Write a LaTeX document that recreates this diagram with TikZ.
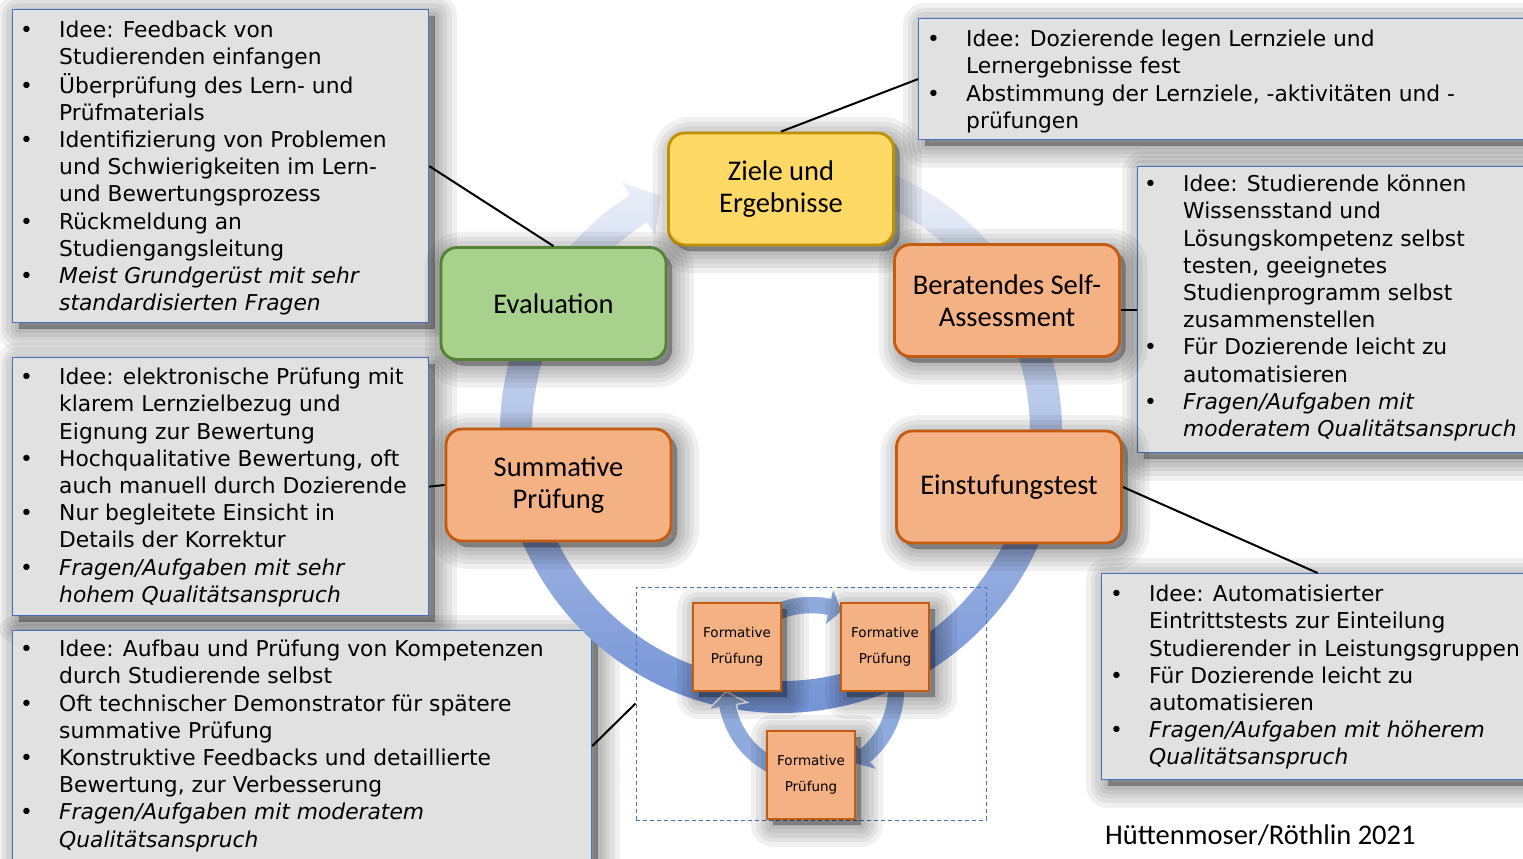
\documentclass[tikz,border=0pt]{standalone}
\usepackage{fontspec}
\setmainfont{DejaVu Sans}
\newfontfamily\titlefont{Carlito}
\definecolor{tboxline}{HTML}{4472C4}
\definecolor{tboxfill}{HTML}{E1E1E1}
\definecolor{zfill}{HTML}{FFD966}
\definecolor{zline}{HTML}{BF9000}
\definecolor{gfill}{HTML}{A9D18E}
\definecolor{gline}{HTML}{548235}
\definecolor{ofill}{HTML}{F4B183}
\definecolor{oline}{HTML}{C55A11}
\definecolor{ringtop}{HTML}{F0F3FA}
\definecolor{ringbot}{HTML}{7393D6}
\definecolor{smallarrow}{HTML}{8FAADC}
\newcommand{\bitem}[1]{\textbullet & #1\\}
\newcommand{\bcont}[1]{& #1\\}
\newcommand{\blist}[1]{\fontsize{21.8}{27.2}\selectfont\begin{tabular}{@{}p{39pt}@{}l@{}}#1\end{tabular}}
\tikzset{
 shadowlayer/.style={preaction={fill=black, draw=black, line join=round, line width=#1, opacity=0.06, transform canvas={xshift=6pt, yshift=-6pt}}},
 softshadow/.style={shadowlayer=44pt, shadowlayer=34pt, shadowlayer=25pt, shadowlayer=16pt, shadowlayer=8pt, shadowlayer=1pt},
 tbox/.style={draw=tboxline, line width=1.2pt, fill=tboxfill, anchor=north west, inner sep=0pt, softshadow},
 ttext/.style={anchor=north west, inner sep=0pt},
 stage/.style={rounded corners=16pt, line width=2.8pt, minimum width=225pt, minimum height=112pt, inner sep=0pt, align=center, font=\titlefont\fontsize{28.5}{32}\selectfont, softshadow},
 formbox/.style={draw=oline, fill=ofill, line width=2.5pt, minimum width=88pt, minimum height=88pt, inner sep=0pt, align=center, font=\fontsize{13.5}{26}\selectfont, softshadow},
 link/.style={draw=black, line width=2pt},
 smallarr/.style={fill=smallarrow, draw=white, line width=1.5pt},
 cyclebox/.style={draw=tboxline, dashed, dash pattern=on 4pt off 3pt, line width=1pt, minimum width=350pt, minimum height=233pt, inner sep=0pt},
}
\begin{document}
\begin{tikzpicture}[x=1pt,y=-1pt]
\useasboundingbox (0,0) rectangle (1523,859);
\clip (0,0) rectangle (1523,859);
\fill[white] (0,0) rectangle (1523,859);

% text boxes
\node[tbox, minimum width=416pt, minimum height=313pt] (box1) at (12,9) {};
\node[tbox, minimum width=620pt, minimum height=121pt] (box2) at (918,18) {};
\node[tbox, minimum width=400pt, minimum height=286pt] (box3) at (1137,166) {};
\node[tbox, minimum width=416pt, minimum height=258pt] (box4) at (12,357) {};
\node[tbox, minimum width=579pt, minimum height=231pt] (box5) at (12,630) {};
\node[tbox, minimum width=432pt, minimum height=206pt] (box6) at (1101,573) {};

% big cycle ring
\begin{scope}[shift={(781,432)}]
\shade[top color=ringtop, bottom color=ringbot]
 (-90:281) arc[start angle=-90, end angle=237.5, radius=281]
 -- (237.5:296) -- (243:265) -- (237.5:234) -- (237.5:249)
 arc[start angle=237.5, end angle=-90, radius=249] -- cycle;
\end{scope}

% stages
\node[stage, draw=zline, fill=zfill] (ziele) at (781,189) {Ziele und\\Ergebnisse};
\node[stage, draw=gline, fill=gfill] (eval) at (553.5,303.5) {Evaluation};
\node[stage, draw=oline, fill=ofill] (berat) at (1007,300.5) {Beratendes Self-\\Assessment};
\node[stage, draw=oline, fill=ofill] (summ) at (558.5,485) {Summative\\Prüfung};
\node[stage, draw=oline, fill=ofill] (einst) at (1009,487) {Einstufungstest};

% formative cycle
\node[cyclebox] (fcycle) at (811,703.5) {};
\begin{scope}[shift={(811,690)}]
\filldraw[smallarr] (245:94) arc[start angle=245, end angle=282, radius=94]
 -- (282:105) -- (292:85) -- (282:65) -- (282:76)
 arc[start angle=282, end angle=245, radius=76] -- cycle;
\filldraw[smallarr] (-5:94) arc[start angle=-5, end angle=50, radius=94]
 -- (50:105) -- (60:85) -- (50:65) -- (50:76)
 arc[start angle=50, end angle=-5, radius=76] -- cycle;
\filldraw[smallarr] (117:94) arc[start angle=117, end angle=169, radius=94]
 -- (169:105) -- (179:85) -- (169:65) -- (169:76)
 arc[start angle=169, end angle=117, radius=76] -- cycle;
\end{scope}
\node[formbox] (f1) at (737,647) {Formative\\Prüfung};
\node[formbox] (f2) at (885,647) {Formative\\Prüfung};
\node[formbox] (f3) at (811,775) {Formative\\Prüfung};

% texts
\node[ttext] (t1) at (20,18.5) {\blist{%
\bitem{Idee: Feedback von}
\bcont{Studierenden einfangen}
\bitem{Überprüfung des Lern- und}
\bcont{Prüfmaterials}
\bitem{Identifizierung von Problemen}
\bcont{und Schwierigkeiten im Lern-}
\bcont{und Bewertungsprozess}
\bitem{Rückmeldung an}
\bcont{Studiengangsleitung}
\bitem{\itshape Meist Grundgerüst mit sehr}
\bcont{\itshape standardisierten Fragen}}};

\node[ttext] (t2) at (927,27.5) {\blist{%
\bitem{Idee: Dozierende legen Lernziele und}
\bcont{Lernergebnisse fest}
\bitem{Abstimmung der Lernziele, -aktivitäten und -}
\bcont{prüfungen}}};

\node[ttext] (t3) at (1144,172.5) {\blist{%
\bitem{Idee: Studierende können}
\bcont{Wissensstand und}
\bcont{Lösungskompetenz selbst}
\bcont{testen, geeignetes}
\bcont{Studienprogramm selbst}
\bcont{zusammenstellen}
\bitem{Für Dozierende leicht zu}
\bcont{automatisieren}
\bitem{\itshape Fragen/Aufgaben mit}
\bcont{\itshape moderatem Qualitätsanspruch}}};

\node[ttext] (t4) at (20,365.5) {\blist{%
\bitem{Idee: elektronische Prüfung mit}
\bcont{klarem Lernzielbezug und}
\bcont{Eignung zur Bewertung}
\bitem{Hochqualitative Bewertung, oft}
\bcont{auch manuell durch Dozierende}
\bitem{Nur begleitete Einsicht in}
\bcont{Details der Korrektur}
\bitem{\itshape Fragen/Aufgaben mit sehr}
\bcont{\itshape hohem Qualitätsanspruch}}};

\node[ttext] (t5) at (20,637.5) {\blist{%
\bitem{Idee: Aufbau und Prüfung von Kompetenzen}
\bcont{durch Studierende selbst}
\bitem{Oft technischer Demonstrator für spätere}
\bcont{summative Prüfung}
\bitem{Konstruktive Feedbacks und detaillierte}
\bcont{Bewertung, zur Verbesserung}
\bitem{\itshape Fragen/Aufgaben mit moderatem}
\bcont{\itshape Qualitätsanspruch}}};

\node[ttext] (t6) at (1110,582.5) {\blist{%
\bitem{Idee: Automatisierter}
\bcont{Eintrittstests zur Einteilung}
\bcont{Studierender in Leistungsgruppen}
\bitem{Für Dozierende leicht zu}
\bcont{automatisieren}
\bitem{\itshape Fragen/Aufgaben mit höherem}
\bcont{\itshape Qualitätsanspruch}}};

\node[anchor=base west, inner sep=0pt, font=\titlefont\fontsize{28.5}{32}\selectfont] (credit) at (1105,844) {Hüttenmoser/Röthlin 2021};

% connectors
\draw[link] (box1.east) -- (eval.north);
\draw[link] (ziele.north) -- (box2.west);
\draw[link] (berat.east |- box3.west) -- (box3.west);
\draw[link] (summ.west) -- (box4.east);
\draw[link] (einst.east) -- (box6.north);
\draw[link] (fcycle.west) -- (box5.east);
\end{tikzpicture}
\end{document}
